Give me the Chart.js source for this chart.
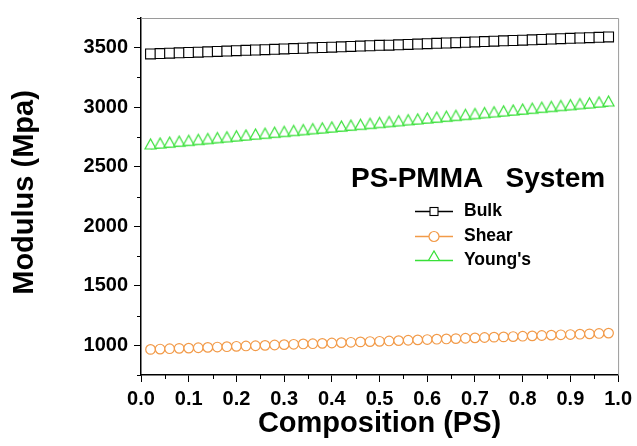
<!DOCTYPE html>
<html>
<head>
<meta charset="utf-8">
<script src="https://cdn.jsdelivr.net/npm/chart.js@4/dist/chart.umd.min.js"></script>
<style>
  body { margin: 0; background: #fff; }
  #wrap { position: relative; width: 637px; height: 446px; }
  #legend { position: absolute; left: 0; top: 0; font-family: 'Liberation Sans', Arial, sans-serif; font-weight: bold; color: #000; }
  #legend .title { position: absolute; left: 351px; top: 164px; font-size: 28px; line-height: 28px; white-space: pre; }
  #legend .row { position: absolute; left: 413px; height: 25px; line-height: 25px; font-size: 17.5px; white-space: nowrap; }
  #legend .row svg { position: absolute; left: 0; top: 0; }
  #legend .row span { position: absolute; left: 51px; top: 0; }
</style>
</head>
<body>
<div id="wrap">
  <canvas id="chart" width="637" height="446"></canvas>
  <div id="legend"></div>
</div>
<script>
// composition of PS, 0.02 .. 0.98
const composition = [0.02, 0.04, 0.06, 0.08, 0.10, 0.12, 0.14, 0.16, 0.18, 0.20,
  0.22, 0.24, 0.26, 0.28, 0.30, 0.32, 0.34, 0.36, 0.38, 0.40,
  0.42, 0.44, 0.46, 0.48, 0.50, 0.52, 0.54, 0.56, 0.58, 0.60,
  0.62, 0.64, 0.66, 0.68, 0.70, 0.72, 0.74, 0.76, 0.78, 0.80,
  0.82, 0.84, 0.86, 0.88, 0.90, 0.92, 0.94, 0.96, 0.98];

const bulk = [3448, 3451, 3454, 3457, 3460, 3463, 3466, 3469, 3472, 3475,
  3478, 3481, 3484, 3487, 3490, 3493, 3496, 3499, 3502, 3505,
  3508, 3511, 3514, 3517, 3520, 3522, 3525, 3528, 3531, 3534,
  3537, 3540, 3543, 3546, 3549, 3552, 3555, 3558, 3561, 3564,
  3567, 3570, 3573, 3576, 3579, 3582, 3585, 3588, 3591];

const shear = [965, 968, 971, 974, 976, 979, 982, 985, 988, 991,
  994, 996, 999, 1002, 1005, 1008, 1011, 1013, 1016, 1019,
  1022, 1025, 1028, 1031, 1033, 1036, 1039, 1042, 1045, 1048,
  1051, 1053, 1056, 1059, 1062, 1065, 1068, 1070, 1073, 1076,
  1079, 1082, 1085, 1088, 1090, 1093, 1096, 1099, 1102];

const youngs = [2650, 2658, 2665, 2673, 2680, 2688, 2695, 2703, 2710, 2718,
  2725, 2733, 2740, 2748, 2755, 2763, 2770, 2778, 2785, 2793,
  2800, 2808, 2815, 2823, 2830, 2838, 2845, 2853, 2860, 2868,
  2875, 2883, 2890, 2898, 2905, 2913, 2920, 2928, 2935, 2943,
  2950, 2958, 2965, 2973, 2980, 2988, 2995, 3003, 3010];

const seriesNames = ['Bulk', 'Shear', "Young's"];
const seriesColors = ['#000000', '#f29a48', '#38e038'];

const xTicks = [0.0, 0.1, 0.2, 0.3, 0.4, 0.5, 0.6, 0.7, 0.8, 0.9, 1.0];
const xMinor = [0.05, 0.15, 0.25, 0.35, 0.45, 0.55, 0.65, 0.75, 0.85, 0.95];
const yTicks = [1000, 1500, 2000, 2500, 3000, 3500];
const yMinor = [750, 1250, 1750, 2250, 2750, 3250, 3750];

const FONT = "'Liberation Sans', Arial, sans-serif";

// open triangle with its base on the data point (as in the original plot)
function triangleMarker(color) {
  const c = document.createElement('canvas');
  c.width = 13; c.height = 24;
  const g = c.getContext('2d');
  g.beginPath();
  g.moveTo(1, 12); g.lineTo(12, 12); g.lineTo(6.5, 2); g.closePath();
  g.fillStyle = '#fff'; g.fill();
  g.lineWidth = 1.2; g.strokeStyle = color; g.stroke();
  return c;
}

const pts = arr => arr.map((v, i) => ({ x: composition[i], y: v }));

// minor ticks + grey top/right frame
const framePlugin = {
  id: 'frame',
  afterDraw(chart) {
    const { ctx, chartArea: a, scales: { x, y } } = chart;
    ctx.save();
    ctx.strokeStyle = '#9a9a9a'; ctx.lineWidth = 1;
    ctx.beginPath();
    ctx.moveTo(a.left, a.top + 0.5); ctx.lineTo(a.right + 0.5, a.top + 0.5);
    ctx.lineTo(a.right + 0.5, a.bottom);
    ctx.stroke();
    ctx.strokeStyle = '#000'; ctx.lineWidth = 1;
    ctx.beginPath();
    xMinor.forEach(v => {
      const px = Math.round(x.getPixelForValue(v)) + 0.5;
      ctx.moveTo(px, a.bottom); ctx.lineTo(px, a.bottom + 4);
    });
    yMinor.forEach(v => {
      const py = Math.round(y.getPixelForValue(v)) + 0.5;
      ctx.moveTo(a.left, py); ctx.lineTo(a.left - 4, py);
    });
    ctx.stroke();
    ctx.restore();
  }
};

new Chart(document.getElementById('chart'), {
  type: 'line',
  data: {
    datasets: [
      { label: seriesNames[0], data: pts(bulk), borderColor: seriesColors[0], borderWidth: 1,
        pointStyle: 'rect', pointRadius: 7, pointBorderWidth: 1.1, pointBackgroundColor: '#fff', pointBorderColor: seriesColors[0] },
      { label: seriesNames[1], data: pts(shear), borderColor: seriesColors[1], borderWidth: 1,
        pointStyle: 'circle', pointRadius: 4.8, pointBorderWidth: 1.2, pointBackgroundColor: '#fff', pointBorderColor: seriesColors[1] },
      { label: seriesNames[2], data: pts(youngs), borderColor: seriesColors[2], borderWidth: 1.2,
        pointStyle: triangleMarker(seriesColors[2]), pointRadius: 5, pointBackgroundColor: '#fff', pointBorderColor: seriesColors[2] }
    ]
  },
  options: {
    responsive: false,
    animation: false,
    layout: { padding: { top: 15, right: 18, left: 0, bottom: 0 } },
    plugins: { legend: { display: false }, tooltip: { enabled: false } },
    scales: {
      x: {
        type: 'linear', min: 0, max: 1,
        afterBuildTicks: s => { s.ticks = xTicks.map(v => ({ value: v })); },
        afterFit: s => { s.height = 71; },
        grid: { drawOnChartArea: false, drawTicks: true, tickLength: 7, tickColor: '#000', tickWidth: 1 },
        border: { color: '#000', width: 1.5 },
        ticks: { autoSkip: false, maxRotation: 0, padding: 5, color: '#000',
                 font: { family: FONT, size: 20, weight: 'bold' }, callback: v => v.toFixed(1) },
        title: { display: true, text: 'Composition (PS)', color: '#000',
                 font: { family: FONT, size: 29, weight: 'bold' }, padding: { top: 0, bottom: 5 } }
      },
      y: {
        type: 'linear', min: 750, max: 3750,
        afterBuildTicks: s => { s.ticks = yTicks.map(v => ({ value: v })); },
        afterFit: s => { s.width = 141; },
        grid: { drawOnChartArea: false, drawTicks: true, tickLength: 7, tickColor: '#000', tickWidth: 1 },
        border: { color: '#000', width: 1.5 },
        ticks: { autoSkip: false, padding: 6, color: '#000',
                 font: { family: FONT, size: 20, weight: 'bold' }, callback: v => String(v) },
        title: { display: true, text: ' Modulus (Mpa)', color: '#000',
                 font: { family: FONT, size: 29, weight: 'bold' }, padding: { top: 8, bottom: 0 } }
      }
    }
  },
  plugins: [framePlugin]
});

// legend block inside the plot
const legend = document.getElementById('legend');
legend.innerHTML = '<div class="title">PS-PMMA   System</div>';
const marks = [
  c => `<rect x="17" y="9.5" width="8" height="8" fill="#fff" stroke="${c}" stroke-width="1.1"/>`,
  c => `<circle cx="21" cy="13.5" r="5" fill="#fff" stroke="${c}" stroke-width="1.2"/>`,
  c => `<path d="M15.5 13.5 L26.5 13.5 L21 4 Z" fill="#fff" stroke="${c}" stroke-width="1.2"/>`
];
seriesNames.forEach((name, i) => {
  const c = seriesColors[i];
  const row = document.createElement('div');
  row.className = 'row';
  row.style.top = (198 + i * 24.5) + 'px';
  row.innerHTML = `<svg width="44" height="25"><line x1="2" y1="13.5" x2="40" y2="13.5" stroke="${c}" stroke-width="1.3"/>${marks[i](c)}</svg><span>${name}</span>`;
  legend.appendChild(row);
});
</script>
</body>
</html>
